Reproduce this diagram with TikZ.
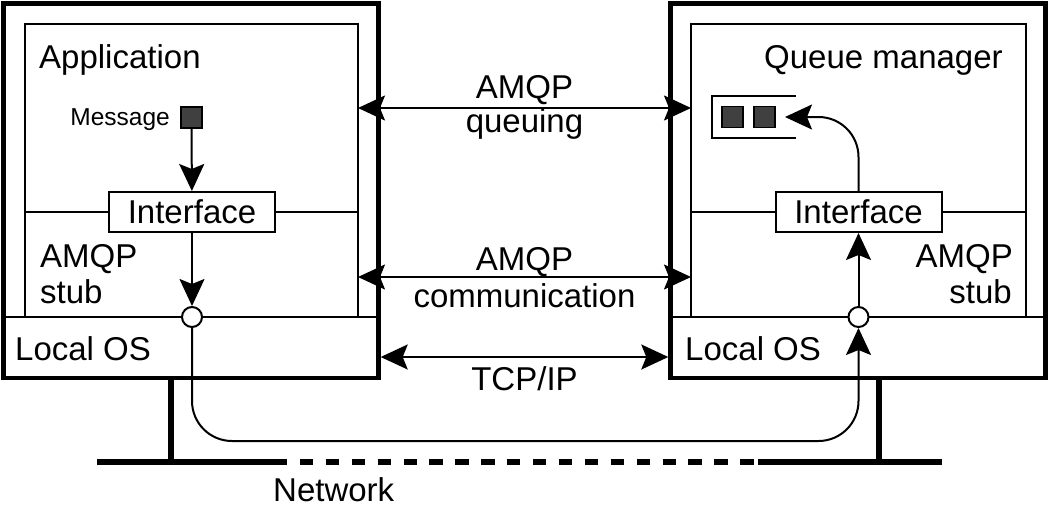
\documentclass[tikz,border=0pt]{standalone}
\usepackage{fontspec}
\setmainfont{Liberation Sans}
\usetikzlibrary{arrows.meta}
\definecolor{msggray}{HTML}{404040}
\begin{document}
\begin{tikzpicture}[x=1pt,y=-1pt,
  hostframe/.style={line width=4.5pt},
  partline/.style={line width=2pt},
  conn/.style={line width=2pt,-{Stealth[length=27pt,width=25pt,inset=5pt]}},
  dconn/.style={line width=2pt,{Stealth[length=27pt,width=25pt,inset=5pt]}-{Stealth[length=27pt,width=25pt,inset=5pt]}},
  wire/.style={line width=5.5pt},
  txt/.style={inner sep=0pt,font=\fontsize{33}{38}\selectfont},
  smalltxt/.style={inner sep=0pt,font=\fontsize{24.5}{28}\selectfont},
  ifbox/.style={draw,fill=white,line width=2pt,minimum width=166pt,minimum height=40pt,inner sep=0pt,font=\fontsize{33}{38}\selectfont},
  msgbox/.style={draw,fill=msggray,line width=1.5pt,minimum size=21pt,inner sep=0pt},
  port/.style={circle,draw,fill=white,line width=2pt,minimum size=20pt,inner sep=0pt}
]
\useasboundingbox (0,0) rectangle (1050,504);

% ---------- network and stands ----------
\coordinate (nl) at (97,462);
\coordinate (nd1) at (274,462);
\coordinate (nd2) at (758,462);
\coordinate (nr) at (942,462);
\draw[wire] (nl) -- (nd1);
\draw[wire,dash pattern=on 13.3pt off 12.6pt] (nd1) -- (nd2);
\draw[wire] (nd2) -- (nr);
\coordinate (ls1) at (171,378);
\coordinate (ls2) at (171,462);
\coordinate (rs1) at (879,378);
\coordinate (rs2) at (879,462);
\draw[wire] (ls1) -- (ls2);
\draw[wire] (rs1) -- (rs2);
\node[txt,anchor=base west] (net) at (273,501) {Network};

% ---------- left host ----------
\draw[hostframe] (3.5,3.5) rectangle (378.5,378);
\draw[partline] (25,317) -- (25,24) -- (358,24) -- (358,317);
\draw[partline] (3.5,317) -- (378.5,317);
\draw[partline] (25,212) -- (358,212);
\node[txt,anchor=base west] (lapp) at (39,68) {Application};
\node[smalltxt,anchor=base east] (lmsgt) at (170,125) {Message};
\node[msgbox] (lmsg) at (191.5,117.5) {};
\node[ifbox] (lif) at (192,212) {Interface};
\node[txt,anchor=base west] (lamqp) at (40,267) {AMQP};
\node[txt,anchor=base west] (lstub) at (40,303) {stub};
\node[txt,anchor=base west] (los) at (15,360) {Local OS};
\node[port] (lport) at (192,317) {};
\draw[conn] (lmsg) -- (lif);
\draw[conn] (lif) -- (lport);

% ---------- right host ----------
\draw[hostframe] (670.5,3.5) rectangle (1045.5,378);
\draw[partline] (691,317) -- (691,24) -- (1026,24) -- (1026,317);
\draw[partline] (670.5,317) -- (1045.5,317);
\draw[partline] (691,212) -- (1026,212);
\node[txt,anchor=base west] (rqm) at (764,68) {Queue manager};
\draw[partline] (796,96) -- (712,96) -- (712,138) -- (796,138);
\node[msgbox] (rq1) at (732.5,117) {};
\node[msgbox] (rq2) at (764.5,117) {};
\coordinate (rqin) at (785,117);
\node[ifbox] (rif) at (858.5,212) {Interface};
\node[txt,anchor=base east] (ramqp) at (1013,267) {AMQP};
\node[txt,anchor=base east] (rstub) at (1012,303) {stub};
\node[txt,anchor=base west] (ros) at (685,360) {Local OS};
\node[port] (rport) at (858.5,317) {};
\draw[conn] (rport) -- (rif);
\draw[conn,rounded corners=40pt] (rif.north) |- (rqin);

% ---------- path through the network ----------
\coordinate (pl) at (192,441);
\coordinate (pr) at (858.5,441);
\draw[conn,rounded corners=40pt] (lport) -- (pl) -- (pr) -- (rport);

% ---------- protocol links ----------
\coordinate (qa) at (358,108);
\coordinate (qb) at (691,108);
\draw[dconn] (qa) -- (qb);
\node[txt,anchor=base] (qt1) at (524.5,98) {AMQP};
\node[txt,anchor=base] (qt2) at (524.5,132) {queuing};

\coordinate (ca) at (358,277);
\coordinate (cb) at (691,277);
\draw[dconn] (ca) -- (cb);
\node[txt,anchor=base] (ct1) at (524.5,270) {AMQP};
\node[txt,anchor=base] (ct2) at (524.5,307) {communication};

\coordinate (ta) at (380.7,357);
\coordinate (tb) at (668.3,357);
\draw[dconn] (ta) -- (tb);
\node[txt,anchor=base] (tt) at (524.5,390) {TCP/IP};
\end{tikzpicture}
\end{document}
